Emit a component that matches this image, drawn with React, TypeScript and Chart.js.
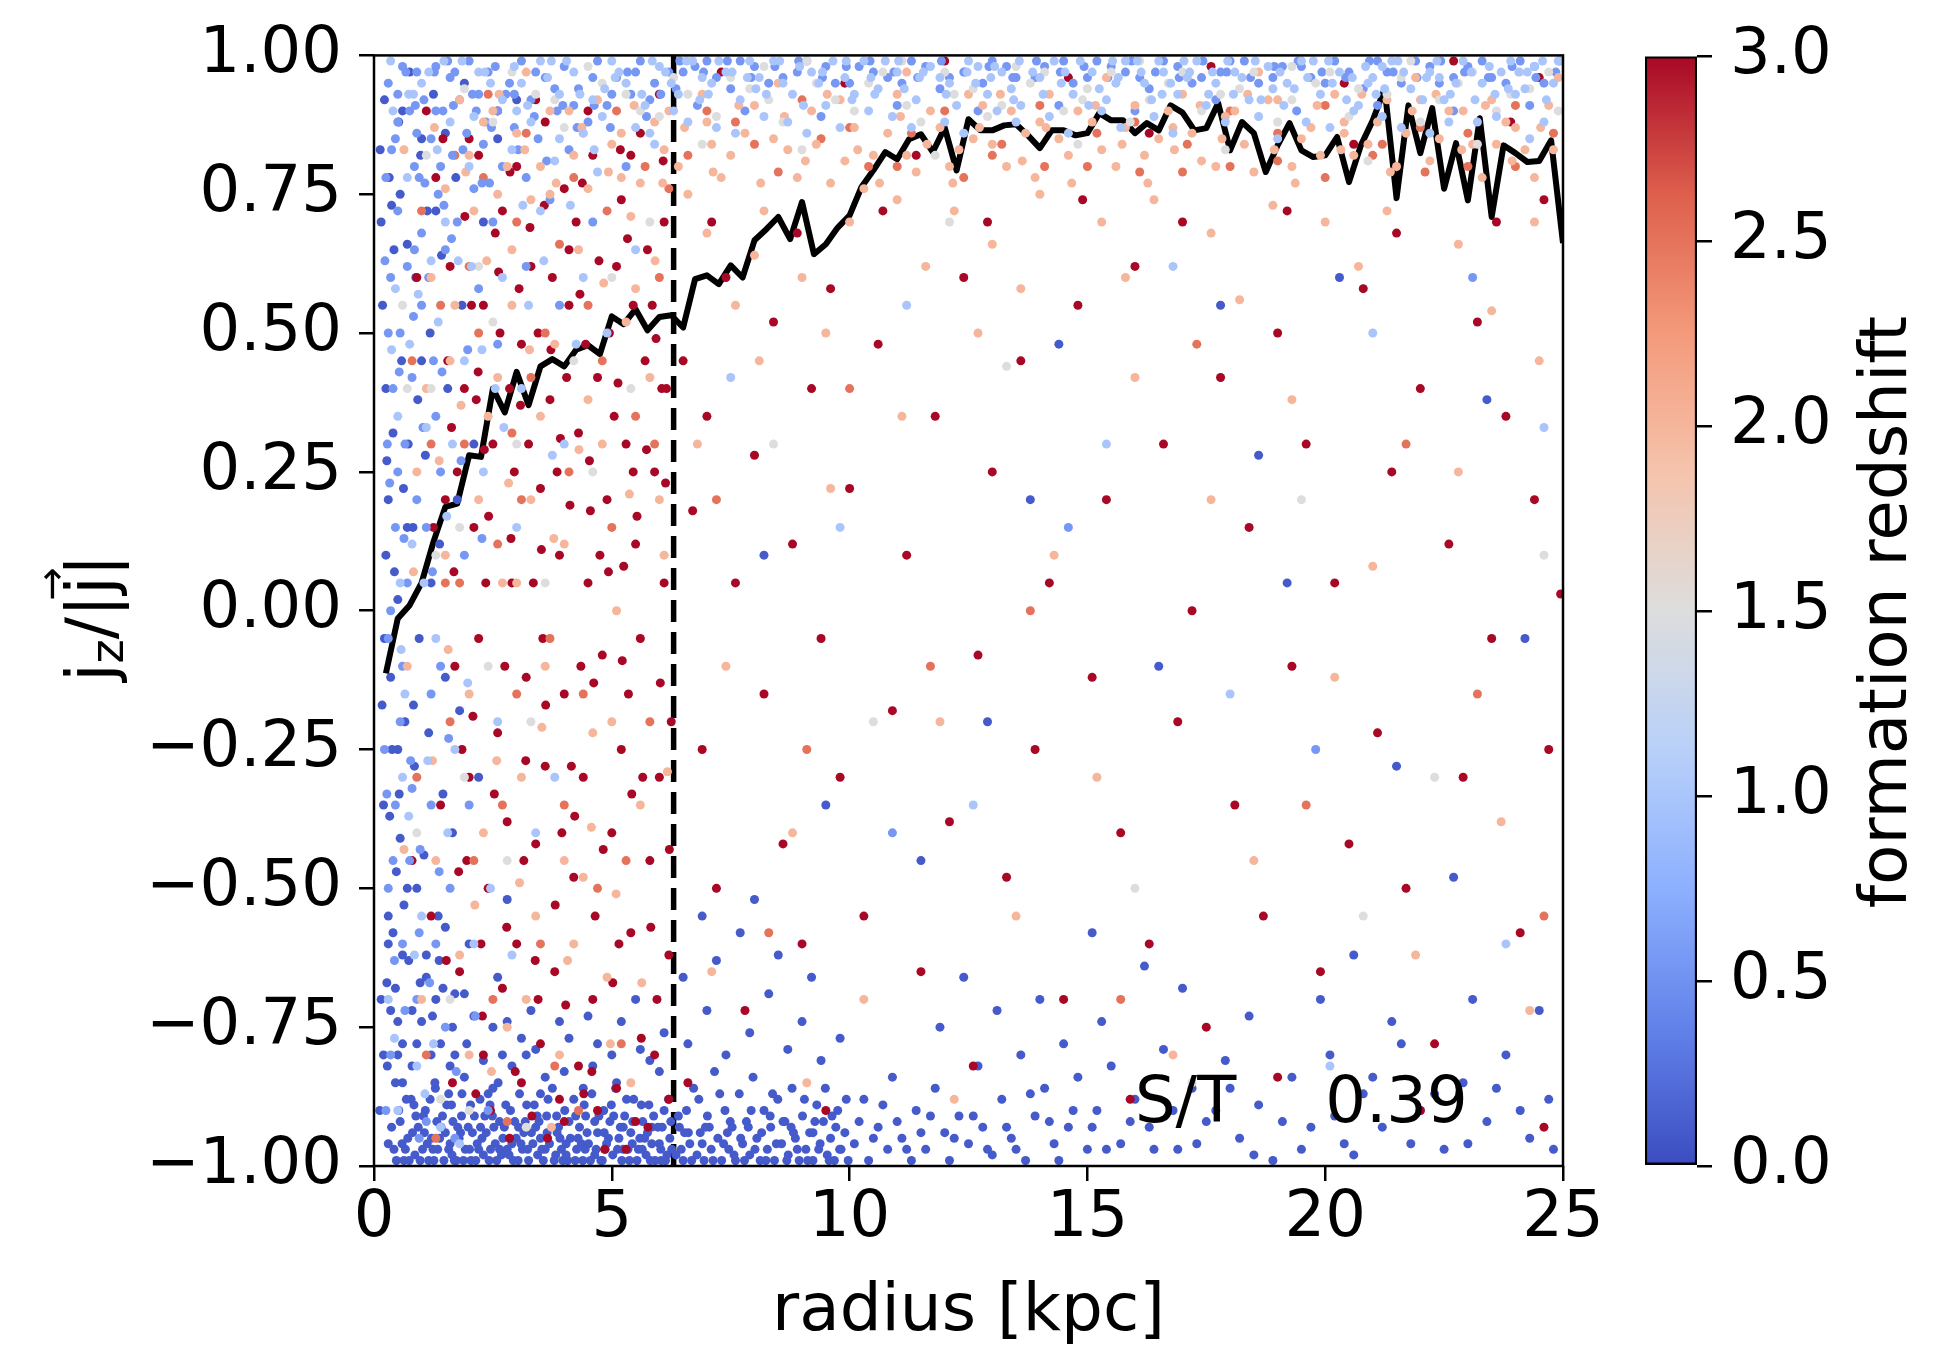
import { useEffect, useRef } from 'react';
import { Chart, registerables } from 'chart.js';

Chart.register(...registerables);

// ---- data ----

const RADIUS_BINS = [
  0.25, 0.5, 0.75, 1, 1.25, 1.5, 1.75, 2, 2.25, 2.5, 2.75, 3, 3.25, 3.5, 3.75, 4, 4.25, 4.5, 4.75, 5,
  5.25, 5.5, 5.75, 6, 6.25, 6.5, 6.75, 7, 7.25, 7.5, 7.75, 8, 8.25, 8.5, 8.75, 9, 9.25, 9.5, 9.75, 10,
  10.25, 10.5, 10.75, 11, 11.25, 11.5, 11.75, 12, 12.25, 12.5, 12.75, 13, 13.25, 13.5, 13.75, 14, 14.25, 14.5, 14.75, 15,
  15.25, 15.5, 15.75, 16, 16.25, 16.5, 16.75, 17, 17.25, 17.5, 17.75, 18, 18.25, 18.5, 18.75, 19, 19.25, 19.5, 19.75, 20,
  20.25, 20.5, 20.75, 21, 21.25, 21.5, 21.75, 22, 22.25, 22.5, 22.75, 23, 23.25, 23.5, 23.75, 24, 24.25, 24.5, 24.75, 25,
];

const MEAN_JZ = [
  -0.113, -0.014, 0.01, 0.05, 0.124, 0.187, 0.193, 0.28, 0.277, 0.4, 0.357, 0.43, 0.37, 0.44, 0.453, 0.44, 0.47, 0.478, 0.462, 0.53,
  0.516, 0.543, 0.505, 0.529, 0.532, 0.51, 0.597, 0.604, 0.588, 0.622, 0.6, 0.667, 0.687, 0.709, 0.669, 0.736, 0.642, 0.66, 0.69, 0.712,
  0.763, 0.793, 0.826, 0.813, 0.849, 0.858, 0.826, 0.87, 0.793, 0.885, 0.865, 0.865, 0.874, 0.876, 0.856, 0.833, 0.865, 0.865, 0.856, 0.86,
  0.896, 0.883, 0.883, 0.86, 0.878, 0.865, 0.91, 0.897, 0.865, 0.869, 0.914, 0.829, 0.88, 0.86, 0.79, 0.838, 0.878, 0.829, 0.817, 0.82,
  0.853, 0.772, 0.838, 0.883, 0.94, 0.743, 0.91, 0.824, 0.905, 0.76, 0.842, 0.739, 0.887, 0.709, 0.838, 0.824, 0.808, 0.81, 0.847, 0.662,
];

const HALF_MASS_RADIUS = 6.3;
const ST_RATIO = 0.39;

const X_TICKS = [0, 5, 10, 15, 20, 25];
const Y_TICKS = [-1, -0.75, -0.5, -0.25, 0, 0.25, 0.5, 0.75, 1];
const Z_TICKS = [0, 0.5, 1, 1.5, 2, 2.5, 3];

// star particles, flat [radius, jz, radius, jz, ...], grouped by formation redshift
const Z_GROUPS = [1.0, 1.5, 2.0, 0.55, 2.5, 3.0, 0.1];

const PTS_Z10 = [
  2.2,.97, 2.7,.92, 3.1,.95, 3.5,.99, 3.9,.93, 4.2,.97, 4.6,.92, 5.0,.99, 5.3,.95, 5.7,.91, 6.0,.98, 6.4,.93, 6.7,.99, 7.1,.95,
  7.4,.97, 7.7,.92, 8.1,.96, 8.4,.99, 8.8,.93, 9.2,.97, 9.5,.91, 9.9,.96, 10.3,.99, 10.6,.94, 11.0,.97, 11.4,.92, 11.7,.98,
  12.1,.95, 12.5,.99, 12.9,.93, 13.2,.97, 13.6,.91, 14.0,.96, 14.3,.99, 14.7,.93, 15.1,.97, 15.4,.92, 15.8,.99, 16.2,.95,
  16.6,.97, 16.9,.93, 17.3,.99, 17.7,.95, 18.1,.97, 18.4,.92, 18.8,.98, 19.2,.95, 19.5,.99, 19.9,.93, 20.3,.97, 20.7,.91,
  21.0,.96, 21.4,.99, 21.8,.94, 22.2,.97, 22.5,.92, 22.9,.99, 23.3,.95, 23.7,.97, 24.0,.93, 24.4,.98, 24.8,.95,
  3.3,.88, 4.4,.86, 5.5,.87, 6.6,.88, 7.6,.86, 8.7,.88, 9.8,.87, 10.9,.89, 12.0,.88, 13.1,.9, 14.2,.89, 15.3,.9, 16.4,.89,
  17.5,.91, 18.6,.89, 19.6,.88, 20.6,.9, 21.6,.87, 22.6,.88, 23.6,.89, 24.6,.88, 6.9,.96, 8.6,.95, 10.1,.93, 11.9,.96,
  13.4,.94, 15.6,.95, 17.1,.96, 18.9,.94, 20.9,.95, 22.4,.96, 24.2,.94, 7.9,.99, 12.7,.98, 16.5,.99, 21.2,.98, 23.9,.99,
  0.35,.99, 1.15,.97, 1.85,.99, 2.45,.95, 2.95,.98, 3.65,.96, 4.05,.99, 4.85,.94, 5.15,.97, 5.85,.99, 6.25,.95, 6.85,.92,
  7.25,.99, 7.85,.96, 8.25,.93, 8.95,.98, 9.35,.95, 9.65,.99, 10.05,.92, 10.45,.96, 10.75,.99, 11.15,.94, 11.55,.97,
  12.25,.91, 12.65,.95, 13.05,.98, 13.45,.92, 13.85,.97, 14.45,.95, 14.85,.99, 15.25,.94, 15.65,.96, 16.05,.99, 16.35,.92,
  16.75,.95, 17.15,.97, 17.55,.93, 17.95,.99, 18.25,.96, 18.65,.92, 19.05,.97, 19.35,.94, 19.75,.99, 20.15,.95, 20.45,.92,
  20.85,.98, 21.25,.94, 21.65,.97, 22.05,.92, 22.35,.99, 22.75,.95, 23.15,.92, 23.45,.98, 23.85,.94, 24.25,.97, 24.65,.92,
  24.9,.99, 2.1,.89, 3.0,.9, 3.9,.85, 4.8,.89, 5.8,.86, 6.3,.9, 7.2,.87, 8.2,.89, 9.1,.86, 10.4,.9, 11.3,.87, 12.4,.86,
  13.5,.88, 14.6,.86, 15.7,.87, 16.8,.86, 17.9,.88, 19.0,.85, 20.1,.87, 21.2,.89, 22.2,.86, 23.2,.88, 24.3,.85,
  0.83,.93, 1.47,.99, 2.33,.97, 3.23,.91, 3.73,.99, 4.33,.93, 5.07,.96, 5.63,.93, 6.13,.97, 6.57,.99, 7.03,.93, 7.53,.97,
  8.03,.94, 8.53,.99, 9.03,.91, 9.43,.97, 9.93,.99, 10.53,.93, 11.03,.99, 11.47,.96, 12.03,.93, 12.47,.97, 12.97,.96,
  13.57,.99, 14.07,.93, 14.53,.97, 15.03,.91, 15.53,.99, 16.13,.97, 16.57,.93, 17.03,.99, 17.63,.97, 18.07,.93, 18.53,.99,
  19.13,.91, 19.63,.96, 20.07,.99, 20.57,.96, 21.07,.93, 21.53,.99, 22.13,.96, 22.63,.93, 23.07,.97, 23.57,.93, 24.07,.97,
  24.57,.99,
  0.5,.35, 0.8,.12, 1.1,.33, 1.3,-.05, 0.6,-.3, 1.0,-.55, 1.5,.7, 1.9,.45, 2.3,.25, 2.7,.6, 3.1,.4, 3.5,.72, 1.7,-.25,
  2.1,-.6, 0.9,-.82, 1.4,-.93, 2.6,-.2, 3.0,.15, 3.4,-.4, 4.0,.3, 4.4,.6, 4.9,.5, 5.5,.65, 0.7,.78, 1.2,.63, 0.4,.9,
  1.6,.88, 2.0,.8, 2.9,.83, 3.8,.81, 4.7,.79, 5.9,.84, 1.0,.95, 0.3,-.7, 1.8,-.96, 0.55,.05, 0.45,.58, 0.75,.48, 1.35,.52,
  1.65,.3, 2.05,.62, 2.55,.4, 3.25,.55, 3.75,.28, 4.25,.48, 0.65,-.15, 1.05,.05, 1.55,-.4, 2.45,-.5, 0.85,-.62, 1.25,-.78,
  0.5,-.9, 2.9,-.62, 3.8,-.3, 0.37,.47, 0.57,-.07, 0.73,-.37, 0.93,.57, 1.13,-.27, 1.33,.83, 1.53,.17, 1.77,.63,
  1.97,-.13, 2.27,.47, 2.73,.33, 3.13,.73, 3.57,.63, 4.13,.73, 4.63,.83, 0.43,-.77, 0.73,.93, 1.07,-.87,
  7.5,.42, 9.8,.15, 12.6,-.35, 15.4,.3, 18.0,-.15, 21.0,.5, 23.8,-.6, 20.1,-.82, 11.2,.55, 16.8,.62, 24.6,.33,
];

const PTS_Z15 = [
  2.5,.88, 3.4,.93, 4.0,.87, 4.8,.95, 5.6,.9, 6.3,.96, 7.2,.89, 7.9,.94, 8.6,.88, 9.3,.95, 10.1,.9, 10.7,.97, 11.5,.88,
  12.2,.93, 12.9,.89, 13.8,.95, 14.5,.9, 15.0,.94, 15.9,.88, 16.7,.95, 17.4,.9, 18.2,.94, 19.0,.88, 19.8,.95, 20.5,.89,
  21.3,.93, 22.0,.88, 22.8,.95, 23.6,.9, 24.3,.94, 24.9,.9, 6.9,.84, 9.0,.83, 11.8,.82, 14.8,.84, 17.9,.83, 20.9,.81,
  23.2,.84, 8.2,.98, 11.1,.99, 13.5,.98, 16.1,.99, 19.3,.98, 21.8,.99, 24.1,.97,
  1.9,.94, 2.9,.97, 3.8,.92, 4.5,.98, 5.3,.93, 6.0,.89, 6.6,.93, 7.5,.96, 8.3,.92, 9.1,.99, 9.7,.92, 10.4,.95, 11.2,.91,
  12.0,.97, 12.6,.94, 13.2,.91, 14.1,.97, 14.9,.92, 15.5,.97, 16.3,.92, 17.0,.97, 17.8,.93, 18.5,.97, 19.3,.92, 20.1,.97,
  20.7,.94, 21.6,.96, 22.4,.92, 23.1,.97, 23.9,.93, 24.7,.97,
  1.2,.4, 1.8,.15, 2.4,-.1, 0.9,-.4, 1.6,-.7, 2.2,.62, 3.0,.3, 3.6,.05, 4.2,.45, 2.8,-.45, 1.4,-.88, 5.0,.6, 5.8,.7,
  0.6,.55, 1.1,.82, 2.0,-.9, 3.2,-.93, 0.7,.4, 1.3,.1, 1.9,-.3, 2.5,.52, 3.3,-.2, 4.6,.25, 5.4,.4,
  8.4,.3, 10.5,-.2, 13.3,.44, 16.0,-.5, 19.5,.2, 22.3,-.3, 24.6,.1, 20.8,-.55, 17.2,-.85, 12.1,.7,
];

const PTS_Z20 = [
  2.0,.82, 2.6,.75, 3.0,.86, 3.5,.8, 4.1,.9, 4.5,.76, 5.0,.84, 5.4,.71, 5.9,.88, 6.4,.8, 6.9,.93, 7.3,.78, 7.8,.86,
  8.2,.72, 8.7,.83, 9.2,.9, 9.6,.77, 10.1,.87, 10.5,.82, 11.0,.93, 11.4,.79, 11.9,.87, 12.3,.83, 12.8,.91, 13.3,.8,
  13.7,.86, 14.2,.93, 14.6,.82, 15.1,.88, 15.6,.8, 16.0,.91, 16.5,.85, 17.0,.93, 17.4,.81, 17.9,.89, 18.3,.84, 18.8,.92,
  19.3,.8, 19.7,.87, 20.2,.93, 20.6,.82, 21.1,.88, 21.5,.8, 22.0,.92, 22.4,.85, 22.9,.9, 23.3,.78, 23.8,.88, 24.2,.83,
  24.7,.91, 6.2,.9, 7.1,.84, 8.5,.95, 9.9,.81, 11.2,.97, 12.6,.85, 14.0,.88, 15.4,.96, 16.8,.87, 18.6,.97, 20.4,.86,
  21.9,.96, 23.6,.84, 24.9,.96,
  1.5,.76, 2.3,.88, 2.8,.8, 3.3,.74, 3.7,.9, 4.2,.82, 4.7,.92, 5.2,.86, 5.6,.77, 6.1,.83, 6.6,.75, 7.0,.88, 7.5,.82,
  8.0,.91, 8.4,.85, 8.9,.78, 9.3,.84, 9.8,.92, 10.3,.76, 10.8,.86, 11.2,.82, 11.7,.9, 12.1,.8, 12.5,.93, 13.0,.84,
  13.4,.9, 13.9,.78, 14.4,.85, 14.8,.9, 15.3,.83, 15.8,.87, 16.2,.82, 16.7,.9, 17.2,.86, 17.7,.8, 18.1,.9, 18.5,.79,
  19.0,.92, 19.5,.85, 19.9,.82, 20.4,.88, 20.9,.84, 21.3,.92, 21.7,.86, 22.2,.81, 22.6,.9, 23.1,.84, 23.5,.92, 24.0,.87,
  24.4,.78, 24.8,.83,
  0.63,.83, 1.27,.87, 1.93,.79, 2.63,.93, 3.17,.83, 3.83,.77, 4.37,.87, 4.93,.79, 5.47,.91, 6.07,.77, 6.53,.87, 7.13,.79,
  7.67,.91, 8.13,.77, 8.63,.89, 9.07,.81, 9.53,.93, 10.17,.83, 10.63,.77, 11.07,.89, 11.63,.84, 12.17,.77, 12.73,.87,
  13.17,.93, 13.63,.81, 14.13,.87, 14.67,.77, 15.17,.91, 15.73,.84, 16.27,.77, 16.83,.83, 17.37,.91, 17.83,.85,
  18.37,.93, 18.93,.83, 19.37,.77, 19.83,.91, 20.33,.83, 20.77,.93, 21.37,.79, 21.83,.9, 22.33,.93, 22.87,.83, 23.37,.91,
  23.93,.81, 24.53,.87,
  7.0,.68, 8.0,.64, 9.0,.6, 10.0,.7, 11.0,.74, 12.2,.72, 13.0,.66, 14.0,.75, 15.3,.7, 16.4,.74, 17.6,.68, 18.9,.73,
  20.0,.7, 21.3,.72, 22.8,.66, 24.4,.7, 7.6,.55, 9.5,.5, 11.6,.62, 13.6,.58, 15.8,.6, 18.2,.56, 20.7,.62, 23.5,.54,
  1.2,.6, 1.6,.45, 2.1,.72, 2.4,.35, 2.9,.55, 3.3,.2, 3.8,.48, 4.3,.65, 4.8,.3, 5.3,.52, 5.8,.42, 1.5,.1, 2.0,-.15,
  2.7,.05, 3.1,-.3, 3.6,-.1, 4.0,.12, 4.6,-.22, 5.1,.0, 5.6,-.35, 6.0,.2, 1.3,-.45, 1.8,-.62, 2.3,-.4, 2.8,-.75, 3.4,-.55,
  3.9,-.8, 4.4,-.48, 4.9,-.66, 5.4,-.85, 0.9,.25, 0.7,-.1, 1.0,-.7, 2.5,.9, 3.7,.75, 4.4,.86, 5.2,.78, 1.8,.92, 3.2,.97,
  1.7,.55, 2.2,.2, 2.6,.42, 3.0,.05, 3.5,.35, 4.0,-.45, 4.5,.38, 5.0,-.2, 5.5,.58, 6.1,.1, 2.0,-.8, 3.2,-.7, 4.2,-.6,
  1.1,.4, 2.9,.65, 1.37,.27, 1.56,-.07, 1.83,.37, 2.12,-.53, 2.37,.63, 2.58,-.27, 2.83,.23, 3.06,-.49, 3.27,.47,
  3.53,-.21, 3.78,.13, 4.07,-.63, 4.31,.29, 4.57,-.39, 4.83,.59, 5.09,-.51, 5.37,.21, 5.63,-.67, 5.91,.63, 6.17,-.29,
  1.23,-.27, 2.47,-.83, 3.73,-.93, 4.97,-.78, 0.83,.07, 0.63,-.43,
  6.8,.3, 7.4,-.1, 8.1,.45, 8.8,-.4, 9.6,.22, 10.3,-.7, 11.1,.35, 11.9,-.2, 12.7,.5, 13.5,-.55, 14.3,.1, 15.2,-.3,
  16.0,.42, 16.8,-.8, 17.6,.2, 18.5,-.45, 19.3,.38, 20.2,-.12, 21.0,.08, 21.9,-.62, 22.8,.25, 23.7,-.38, 24.5,.45,
  7.1,-.65, 9.1,-.85, 12.2,-.88, 24.3,-.72,
];

const PTS_Z055 = [
  0.3,.95, 0.45,.85, 0.6,.98, 0.5,.72, 0.75,.9, 0.7,.62, 0.9,.97, 0.85,.8, 1.0,.68, 1.05,.92, 1.2,.85, 1.15,.6, 1.3,.98,
  1.35,.75, 1.45,.9, 1.5,.65, 1.6,.96, 1.65,.82, 1.75,.7, 1.8,.92, 1.95,.86, 2.0,.99, 2.1,.76, 2.2,.93, 2.3,.84, 2.4,.97,
  2.5,.7, 2.6,.9, 2.7,.8, 2.85,.95, 2.95,.87, 3.1,.99, 3.2,.78, 3.3,.92, 3.45,.85, 3.6,.96, 3.7,.74, 3.85,.9, 4.0,.98,
  4.1,.83, 4.3,.94, 4.5,.88, 4.7,.99, 4.9,.91, 5.1,.96, 5.4,.93, 5.6,.99, 5.9,.95, 6.2,.97, 0.35,.6, 0.55,.5, 0.8,.42,
  1.0,.55, 1.25,.45, 0.4,.4, 0.65,.3, 0.9,.2, 0.45,.15, 0.7,.05, 0.3,-.05, 0.55,-.2, 0.8,-.32, 0.4,-.45, 0.6,-.6, 0.9,-.7,
  0.35,-.8, 1.1,-.92, 1.3,-.6, 1.6,-.5, 2.2,.58, 2.6,.48, 3.2,.62, 1.9,.1, 1.4,.25, 1.2,-.15, 2.0,-.35, 2.4,-.9,
  1.7,-.95, 3.9,.55, 4.6,.7, 5.3,.8, 0.25,.78, 0.28,.3, 0.22,-.25, 0.5,.88, 0.95,.78, 1.4,.8, 1.55,.99, 2.35,.88,
  0.5,.93, 0.9,.86, 1.3,.9, 1.7,.97, 2.15,.9, 2.55,.98, 2.95,.93, 3.4,.97, 3.8,.94, 4.2,.91, 4.6,.96, 5.0,.93, 5.5,.97,
  5.8,.92, 0.3,.5, 0.5,.25, 0.35,.0, 0.6,-.1, 0.45,-.35, 0.75,-.45, 0.3,-.5, 0.65,-.72, 0.95,-.58, 1.2,-.35, 1.4,-.1,
  1.1,.15, 0.85,.65, 1.3,.35, 0.25,-.9, 0.95,-.95, 1.5,-.75,
  0.23,.63, 0.33,.23, 0.27,-.33, 0.43,-.63, 0.53,.43, 0.63,.13, 0.77,-.27, 0.83,.53, 0.97,-.43, 1.03,.33, 1.17,-.67,
  1.23,.07, 1.37,-.47, 1.43,.43, 1.57,-.23, 1.63,.67, 1.73,-.83, 1.83,.27, 1.97,.47, 2.13,-.73, 2.27,.13, 2.43,.77,
  0.37,.83, 0.67,.97, 0.87,.91, 1.07,.77, 1.27,.97, 1.47,.73, 1.67,.91, 1.87,.83, 2.07,.93, 2.27,.77, 2.47,.87, 2.77,.93,
  3.03,.83, 3.37,.89, 3.63,.81, 3.97,.91, 4.27,.87, 4.63,.91, 4.97,.87, 5.33,.97, 5.73,.89, 6.03,.93,
  6.5,.97, 7.0,.99, 7.5,.94, 8.0,.98, 8.6,.96, 9.1,.99, 9.7,.95, 10.2,.98, 10.8,.96, 11.3,.99, 11.9,.94, 12.4,.97,
  13.0,.99, 13.5,.96, 14.1,.98, 14.7,.95, 15.2,.99, 15.8,.97, 16.3,.94, 16.9,.98, 17.4,.96, 18.0,.99, 18.6,.95,
  19.1,.98, 19.7,.96, 20.2,.99, 20.8,.94, 21.3,.97, 21.9,.99, 22.4,.95, 23.0,.98, 23.5,.96, 24.1,.99, 24.6,.95,
  6.8,.91, 7.8,.9, 9.4,.89, 11.0,.91, 12.7,.9, 14.4,.91, 16.0,.9, 17.7,.92, 19.4,.9, 21.1,.91, 22.7,.9, 24.3,.91,
  6.35,.94, 6.75,.98, 7.2,.96, 7.7,.99, 8.3,.95, 8.9,.97, 9.5,.98, 10.0,.95, 10.5,.97, 11.1,.95, 11.6,.98, 12.1,.96,
  12.8,.95, 13.3,.98, 13.9,.96, 14.5,.99, 15.0,.96, 15.5,.98, 16.1,.96, 16.6,.99, 17.2,.95, 17.8,.97, 18.3,.99, 18.9,.96,
  19.5,.98, 20.0,.95, 20.5,.97, 21.1,.99, 21.6,.95, 22.2,.98, 22.7,.96, 23.3,.99, 23.8,.95, 24.4,.98, 24.85,.97,
  6.43,.99, 6.93,.97, 7.43,.99, 7.93,.96, 8.43,.98, 8.93,.99, 9.43,.96, 9.93,.98, 10.43,.99, 10.93,.97, 11.43,.96,
  11.93,.99, 12.43,.97, 12.93,.98, 13.43,.96, 13.93,.99, 14.43,.97, 14.93,.98, 15.43,.96, 15.93,.99, 16.43,.97, 16.93,.96,
  17.43,.99, 17.93,.97, 18.43,.96, 18.93,.98, 19.43,.99, 19.93,.97, 20.43,.96, 20.93,.99, 21.43,.97, 21.93,.96, 22.43,.99,
  22.93,.97, 23.43,.96, 23.93,.98, 24.43,.96, 24.93,.99,
  10.9,-.4, 14.6,.15, 19.8,-.25, 23.1,.6,
];

const PTS_Z25 = [
  1.0,.72, 1.4,.55, 1.9,.3, 2.2,.5, 2.6,.12, 3.0,.7, 3.3,.42, 3.7,-.05, 4.1,.25, 4.5,.55, 5.0,.15, 5.5,.35, 6.0,.6,
  1.6,-.2, 2.1,-.45, 2.5,-.7, 3.0,-.15, 3.5,-.6, 4.0,-.35, 4.7,-.5, 5.2,-.78, 5.8,-.2, 1.1,-.8, 0.8,.45, 1.7,.82,
  2.4,.93, 3.2,.86, 4.2,.78, 5.1,.9, 5.7,.8, 1.3,-.95, 2.8,-.92, 4.3,-.9, 1.5,.05, 2.9,.32, 3.9,.66, 4.8,.45,
  1.2,.3, 1.8,.05, 2.3,.78, 2.7,-.35, 3.1,.2, 3.6,.5, 4.4,-.15, 4.9,.72, 5.3,-.45, 5.9,.3, 6.2,.76, 2.0,.62, 3.8,-.82,
  0.9,-.3,
  6.6,.82, 7.6,.88, 8.5,.79, 9.4,.85, 10.4,.8, 11.3,.86, 12.4,.78, 13.2,.84, 14.1,.8, 15.2,.86, 16.1,.79, 17.1,.84,
  18.0,.8, 19.0,.86, 20.0,.78, 21.2,.84, 22.1,.79, 23.0,.86, 24.0,.8, 24.8,.86, 7.0,.9, 8.0,.84, 9.0,.92, 10.0,.87,
  11.0,.8, 12.0,.9, 13.0,.82, 14.0,.91, 15.0,.8, 16.0,.88, 17.0,.79, 18.0,.9, 19.0,.81, 20.0,.91, 21.0,.82, 22.0,.87,
  23.0,.8, 24.0,.91,
  7.2,.2, 8.3,-.58, 10.0,.4, 11.7,-.1, 13.8,.0, 15.7,-.7, 17.3,.48, 19.6,-.35, 21.7,.3, 23.2,-.15, 24.6,-.55, 9.1,-.25,
];

const PTS_Z30 = [
  1.6,.62, 1.9,.4, 2.1,.15, 2.3,.55, 2.5,.3, 2.7,.72, 2.9,.05, 3.1,.48, 3.3,.62, 3.5,.22, 3.7,.38, 3.9,.1, 4.1,.55,
  4.3,.32, 4.5,.05, 4.7,.42, 4.9,.2, 5.1,.62, 5.3,.3, 5.5,.12, 5.7,.45, 5.9,.25, 6.1,.05, 1.7,-.1, 2.0,-.3, 2.2,-.05,
  2.4,-.5, 2.6,-.22, 2.8,-.38, 3.0,-.6, 3.2,-.12, 3.4,-.42, 3.6,-.28, 3.8,-.65, 4.0,-.15, 4.2,-.48, 4.4,-.3, 4.6,-.7,
  4.8,-.08, 5.0,-.4, 5.2,-.25, 5.4,-.58, 5.6,-.05, 5.8,-.45, 6.0,-.3, 6.2,-.62, 1.8,-.65, 2.3,-.8, 2.7,-.68, 3.1,-.85,
  3.5,-.78, 3.9,-.88, 4.3,-.82, 4.7,-.9, 5.1,-.86, 5.5,-.92, 5.9,-.8, 1.5,.2, 1.4,-.35, 1.3,.78, 2.0,.85, 2.6,.9,
  3.0,.8, 3.6,.88, 4.0,.76, 4.6,.82, 5.2,.74, 5.6,.86, 6.1,.7, 2.15,.38, 2.55,.68, 2.95,.25, 3.35,.05, 3.75,.6,
  4.15,-.28, 4.55,.18, 4.95,.5, 5.35,-.15, 5.75,.65, 6.15,.4, 2.45,-.9, 3.65,-.95, 4.85,-.97, 1.95,-.45, 3.05,.58,
  4.05,.42, 1.1,.9, 0.8,-.45, 1.25,.15, 3.45,-.7, 4.25,.7, 5.45,.55,
  1.55,.45, 1.75,.25, 1.85,-.25, 2.05,.55, 2.25,-.6, 2.35,.05, 2.65,.5, 2.75,-.1, 2.85,.4, 3.15,-.45, 3.25,.3, 3.45,.5,
  3.55,-.05, 3.85,.25, 3.95,-.4, 4.1,.65, 4.35,-.1, 4.45,.48, 4.65,-.55, 4.75,.1, 5.05,.35, 5.15,-.6, 5.25,.08, 5.45,.25,
  5.65,-.3, 5.85,.55, 5.95,-.7, 6.05,.4, 6.25,-.2, 2.2,.82, 3.4,.92, 4.5,.9, 5.4,.82, 6.0,.93, 1.65,-.85, 2.85,-.95,
  4.0,-.92, 5.3,-.97, 6.2,-.88, 1.2,-.55, 0.9,.6, 1.45,.85,
  1.63,.33, 1.78,-.47, 1.91,.71, 2.08,-.19, 2.19,.43, 2.28,-.73, 2.41,.17, 2.53,-.33, 2.62,.61, 2.79,-.57, 2.88,.13,
  2.97,-.83, 3.08,.37, 3.19,-.27, 3.28,.69, 3.39,-.63, 3.52,.11, 3.61,-.17, 3.72,.47, 3.81,-.53, 3.92,.31, 4.03,-.71,
  4.12,.19, 4.22,-.37, 4.33,.57, 4.41,-.87, 4.53,.27, 4.62,-.13, 4.73,.63, 4.82,-.43, 4.93,.07, 5.02,-.67, 5.13,.41,
  5.22,-.09, 5.33,.67, 5.42,-.33, 5.53,.17, 5.62,-.77, 5.73,.29, 5.82,-.57, 5.93,.49, 6.02,-.13, 6.13,.23, 6.21,-.43,
  1.52,-.63, 1.68,.07, 2.32,.29, 2.86,.79, 3.58,.73, 4.38,.77, 5.18,.83, 6.08,.81, 2.14,-.87, 3.32,-.91, 4.58,-.83,
  5.76,-.93,
  6.5,.45, 6.7,.18, 6.9,-.25, 7.0,.35, 7.2,-.5, 7.4,.6, 7.6,.05, 7.8,-.72, 8.0,.28, 8.2,-.15, 8.4,.52, 8.6,-.42,
  8.8,.12, 9.0,-.6, 9.2,.4, 9.4,-.05, 9.6,.58, 9.8,-.3, 10.0,.22, 10.3,-.55, 10.6,.48, 10.9,-.18, 11.2,.1, 11.5,-.65,
  11.8,.35, 12.1,-.38, 12.4,.6, 12.7,-.08, 13.0,.25, 13.3,-.48, 13.6,.45, 13.9,-.25, 14.2,.05, 14.5,-.7, 14.8,.55,
  15.1,-.12, 15.4,.2, 15.7,-.4, 16.0,.62, 16.3,-.6, 16.6,.3, 16.9,-.2, 17.2,.0, 17.5,-.75, 17.8,.42, 18.1,-.35, 18.4,.15,
  18.7,-.55, 19.0,.5, 19.3,-.1, 19.6,.3, 19.9,-.65, 20.2,.05, 20.5,-.42, 20.8,.58, 21.1,-.22, 21.4,.25, 21.7,-.5,
  22.0,.4, 22.3,-.78, 22.6,.12, 22.9,-.3, 23.2,.52, 23.5,-.05, 23.8,.35, 24.1,-.58, 24.4,.2, 24.7,-.25, 24.95,.03,
  7.1,.7, 8.9,.68, 10.7,.72, 12.9,.7, 14.9,.74, 17.0,.7, 19.2,.72, 21.5,.68, 23.6,.7, 24.6,.74, 6.6,-.85, 9.5,-.9,
  12.6,-.82, 15.9,-.88, 19.0,-.84, 22.0,-.9, 24.6,-.93, 11.4,.82, 16.3,.86, 20.6,.84, 23.9,.88,
  7.3,.97, 9.9,.95, 12.0,.99, 14.6,.96, 17.6,.98, 20.4,.95, 22.7,.99, 24.5,.96,
];

const PTS_Z01 = [
  0.42,-.97, 0.55,-.92, 0.63,-.99, 0.71,-.95, 0.78,-.88, 0.86,-.98, 0.93,-.93, 1.02,-.97, 1.08,-.9, 1.15,-.99,
  1.21,-.95, 1.29,-.86, 1.34,-.97, 1.41,-.93, 1.47,-.99, 1.53,-.89, 1.6,-.96, 1.66,-.92, 1.73,-.99, 1.79,-.95,
  1.85,-.87, 1.92,-.97, 1.98,-.93, 2.04,-.99, 2.11,-.91, 2.17,-.96, 2.23,-.88, 2.3,-.98, 2.36,-.94, 2.42,-.99,
  2.49,-.91, 2.55,-.96, 2.61,-.85, 2.68,-.98, 2.74,-.93, 2.8,-.97, 2.87,-.9, 2.93,-.99, 2.99,-.95, 3.06,-.87,
  3.12,-.97, 3.18,-.92, 3.25,-.99, 3.31,-.94, 3.37,-.89, 3.44,-.98, 3.5,-.95, 3.56,-.99, 3.63,-.91, 3.69,-.96,
  3.75,-.86, 3.82,-.98, 3.88,-.93, 3.94,-.97, 4.01,-.9, 4.07,-.99, 4.13,-.95, 4.2,-.88, 4.26,-.97, 4.32,-.93,
  4.39,-.99, 4.45,-.91, 4.51,-.96, 4.58,-.87, 4.64,-.98, 4.7,-.94, 4.77,-.99, 4.83,-.9, 4.89,-.96, 4.96,-.92,
  5.02,-.98, 5.08,-.86, 5.15,-.95, 5.21,-.99, 5.27,-.91, 5.34,-.97, 5.4,-.94, 5.46,-.88, 5.53,-.99, 5.59,-.95,
  5.65,-.92, 5.72,-.98, 5.78,-.89, 5.84,-.96, 5.91,-.99, 5.97,-.93, 6.03,-.97, 6.1,-.9, 6.16,-.98, 6.22,-.95,
  0.47,-.99, 0.59,-.96, 0.81,-.94, 0.97,-.99, 1.12,-.96, 1.26,-.99, 1.38,-.95, 1.57,-.97, 1.69,-.99, 1.82,-.94,
  2.01,-.97, 2.14,-.99, 2.27,-.95, 2.45,-.97, 2.58,-.99, 2.71,-.95, 2.9,-.96, 3.03,-.99, 3.15,-.94, 3.34,-.96,
  3.47,-.92, 3.6,-.97, 3.79,-.99, 3.91,-.95, 4.04,-.96, 4.23,-.99, 4.36,-.96, 4.48,-.94, 4.67,-.97, 4.8,-.99,
  4.93,-.95, 5.12,-.97, 5.24,-.93, 5.37,-.99, 5.56,-.97, 5.69,-.95, 5.81,-.99, 6.0,-.96, 6.13,-.99, 6.26,-.97,
  0.52,-.9, 0.74,-.99, 0.88,-.91, 1.06,-.94, 1.18,-.88, 1.32,-.92, 1.5,-.94, 1.63,-.89, 1.76,-.93, 1.88,-.99,
  2.07,-.94, 2.2,-.97, 2.33,-.91, 2.52,-.93, 2.64,-.97, 2.77,-.89, 2.96,-.92, 3.09,-.96, 3.21,-.89, 3.4,-.93,
  3.53,-.97, 3.66,-.88, 3.85,-.94, 3.97,-.99, 4.1,-.92, 4.29,-.95, 4.42,-.89, 4.55,-.99, 4.73,-.91, 4.86,-.97,
  4.99,-.89, 5.18,-.93, 5.31,-.88, 5.43,-.96, 5.62,-.89, 5.75,-.94, 5.88,-.91, 6.06,-.93, 6.19,-.88,
  0.37,-.93, 0.66,-.97, 0.84,-.89, 1.04,-.91, 1.24,-.97, 1.44,-.91, 1.64,-.98, 1.84,-.91, 2.03,-.89, 2.24,-.93,
  2.44,-.89, 2.64,-.92, 2.84,-.98, 3.04,-.93, 3.23,-.97, 3.43,-.91, 3.64,-.94, 3.84,-.91, 4.04,-.98, 4.24,-.91,
  4.44,-.97, 4.64,-.92, 4.84,-.94, 5.04,-.91, 5.24,-.97, 5.44,-.92, 5.64,-.97, 5.84,-.93, 6.04,-.99, 6.24,-.92,
  0.5,-.74, 0.9,-.78, 1.3,-.7, 1.7,-.8, 2.1,-.73, 2.6,-.66, 0.3,-.6, 0.7,-.5, 1.1,-.62, 1.5,-.57, 2.9,-.82, 3.4,-.79,
  3.9,-.74, 4.4,-.86, 5.0,-.8, 5.5,-.7, 6.0,-.83, 0.6,-.85, 1.9,-.84, 3.2,-.8, 4.7,-.78, 0.3,-.96, 0.2,-.8, 0.35,-.72,
  0.6,-.78, 0.45,-.85, 0.8,-.82, 1.0,-.74, 1.2,-.8, 1.45,-.68, 1.65,-.75, 1.9,-.69, 2.3,-.81, 2.5,-.86, 2.8,-.74,
  3.1,-.77, 3.5,-.87, 4.0,-.83, 4.5,-.73, 5.1,-.85, 5.6,-.79, 6.1,-.76,
  6.35,-.98, 6.42,-.93, 6.5,-.99, 6.57,-.9, 6.64,-.96, 6.72,-.86, 6.79,-.98, 6.86,-.94, 6.94,-.99, 7.01,-.91, 7.09,-.97,
  7.16,-.83, 7.23,-.95, 7.31,-.99, 7.38,-.9, 7.46,-.97, 7.53,-.93, 7.6,-.99, 7.68,-.87, 7.75,-.96, 7.83,-.92, 7.9,-.98,
  7.97,-.84, 8.05,-.95, 8.12,-.99, 8.2,-.9, 8.27,-.97, 8.34,-.93, 8.42,-.99, 8.49,-.88, 8.57,-.96, 8.64,-.92, 8.71,-.98,
  8.79,-.86, 8.86,-.95, 8.94,-.99, 9.01,-.91, 9.08,-.97, 9.16,-.94, 9.23,-.99, 9.31,-.89, 9.38,-.96, 9.45,-.92, 9.53,-.98,
  9.6,-.95, 9.68,-.99, 9.75,-.9, 9.82,-.97, 9.9,-.94, 9.97,-.99, 6.46,-.97, 6.68,-.99, 6.9,-.96, 7.13,-.99, 7.35,-.96,
  7.57,-.98, 7.79,-.99, 8.01,-.97, 8.24,-.99, 8.46,-.96, 8.68,-.99, 8.9,-.97, 9.12,-.99, 9.35,-.97, 9.57,-.99, 9.79,-.97,
  6.4,-.91, 6.61,-.94, 6.83,-.88, 7.05,-.93, 7.27,-.87, 7.49,-.92, 7.71,-.95, 7.93,-.9, 8.15,-.94, 8.38,-.87, 8.6,-.92,
  8.82,-.94, 9.05,-.88, 9.27,-.92, 9.49,-.86, 9.71,-.93, 9.93,-.88, 6.53,-.94, 6.97,-.93, 7.43,-.94, 7.87,-.93,
  8.33,-.91, 8.77,-.93, 9.23,-.94, 9.63,-.91,
  6.6,-.78, 7.0,-.72, 7.4,-.8, 7.2,-.63, 7.9,-.76, 8.3,-.69, 8.7,-.79, 9.0,-.74, 9.4,-.81, 9.8,-.77, 6.9,-.55, 7.7,-.58,
  8.5,-.62, 9.2,-.66, 6.5,-.66, 8.0,-.52,
  10.1,-.96, 10.3,-.88, 10.4,-.99, 10.6,-.93, 10.8,-.97, 10.9,-.84, 11.1,-.95, 11.3,-.99, 11.4,-.9, 11.6,-.97, 11.8,-.86,
  12.0,-.94, 12.1,-.99, 12.3,-.91, 12.5,-.96, 12.7,-.82, 12.8,-.93, 13.0,-.98, 13.2,-.88, 13.4,-.95, 13.6,-.8, 13.7,-.99,
  13.9,-.91, 14.1,-.86, 14.3,-.96, 14.5,-.78, 14.6,-.93, 14.8,-.84, 15.0,-.97, 15.2,-.9, 15.5,-.82, 15.7,-.96, 16.0,-.88,
  16.3,-.93, 16.6,-.79, 16.9,-.97, 17.2,-.86, 17.5,-.92, 17.9,-.81, 18.2,-.95, 18.6,-.89, 18.9,-.99, 19.3,-.84, 19.7,-.93,
  20.1,-.8, 20.4,-.96, 20.8,-.87, 21.2,-.93, 21.6,-.78, 22.0,-.9, 22.5,-.97, 22.9,-.85, 23.4,-.92, 23.8,-.8, 24.3,-.95,
  24.7,-.88, 11.9,-.75, 13.1,-.72, 14.0,-.7, 15.3,-.74, 17.0,-.68, 18.4,-.73, 19.9,-.7, 21.4,-.74, 23.1,-.7, 24.5,-.72,
  12.4,-.66, 16.2,-.64, 20.6,-.62, 10.2,-.92, 10.5,-.95, 10.7,-.89, 11.0,-.92, 11.2,-.97, 11.5,-.94, 11.7,-.91, 12.2,-.95,
  12.6,-.91, 12.9,-.97, 13.3,-.93, 13.5,-.97, 13.8,-.87, 14.2,-.92, 14.4,-.99, 14.7,-.9, 15.1,-.93, 15.4,-.97, 15.9,-.92,
  16.4,-.97, 16.8,-.9, 17.3,-.96, 17.7,-.9, 18.0,-.86, 18.5,-.98, 19.1,-.92, 19.5,-.97, 20.2,-.91, 20.6,-.98, 21.0,-.84,
  21.8,-.96, 22.3,-.87, 23.0,-.96, 23.6,-.86, 24.1,-.9, 24.8,-.97,
  0.15,-.7, 0.3,-.55, 0.2,-.35, 0.35,-.12, 0.25,.1, 0.4,.32, 0.18,.55, 0.32,.78, 0.22,.92, 0.5,-.8, 0.6,-.62, 0.55,-.41,
  0.65,-.2, 0.5,.02, 0.62,.22, 0.58,.45, 0.7,.66, 0.52,.88, 0.8,-.72, 0.9,-.5, 0.85,-.28, 0.95,-.05, 0.82,.15, 0.92,.38,
  0.88,.6, 0.98,.82, 0.75,.97, 1.1,-.66, 1.05,-.44, 1.15,-.22, 1.2,.05, 1.08,.28, 1.18,.5, 1.12,.72, 1.25,.93, 1.4,-.78,
  1.35,-.55, 1.45,-.33, 1.5,-.12, 1.38,.12, 1.55,.4, 1.42,.64, 1.5,.86, 1.7,-.69, 1.65,-.4, 1.8,-.18, 1.75,.2, 1.85,.55,
  1.72,.78, 1.9,.95, 2.0,-.6, 2.2,-.3, 2.1,.3, 2.3,.7, 2.5,-.75, 2.6,.85, 2.8,-.52, 3.0,.92, 0.12,-.9, 0.28,-.82,
  0.45,-.68, 0.38,-.25, 0.42,.65, 0.68,-.88, 0.72,.3, 1.0,.45, 1.28,-.85, 1.6,-.82, 1.95,-.78, 2.4,-.87, 2.7,-.8,
  3.3,-.72, 3.6,-.84, 4.1,-.77, 4.6,-.82, 5.2,-.74, 5.8,-.81, 0.25,.4, 0.15,.7, 0.22,-.05, 0.4,-.58, 0.55,.75, 0.7,.15,
  0.3,.2, 0.5,-.25, 1.0,.85, 1.3,.72, 0.6,.9, 0.27,-.67, 0.47,-.47, 0.33,-.37, 0.17,-.17, 0.43,.07, 0.27,.27, 0.13,.83,
  0.37,.73, 0.63,-.53, 0.73,-.63, 0.97,-.67, 1.37,-.63, 1.57,-.87, 1.23,-.73, 0.53,-.33, 0.83,-.17,
  11.5,-.45, 13.8,.2, 16.5,-.1, 19.2,.05, 21.5,-.28, 23.4,.38, 17.8,.55, 15.1,-.58, 22.7,-.48, 20.3,.6, 12.9,-.2,
  18.6,.28, 24.2,-.05, 14.4,.48, 9.5,-.35, 8.2,.1,
];

const GROUP_POINTS = [PTS_Z10, PTS_Z15, PTS_Z20, PTS_Z055, PTS_Z25, PTS_Z30, PTS_Z01];

// ---- colour map (coolwarm) ----
const COOLWARM: [number, number, number][] = [
  [59, 76, 192], [98, 130, 234], [141, 176, 254], [184, 208, 249], [221, 221, 221],
  [245, 196, 173], [244, 154, 123], [222, 96, 77], [168, 8, 38],
];

function coolwarm(t: number) {
  const c = Math.max(0, Math.min(1, t)) * (COOLWARM.length - 1);
  const i = Math.min(COOLWARM.length - 2, Math.floor(c));
  const f = c - i;
  const a = COOLWARM[i], b = COOLWARM[i + 1];
  const m = (k: number) => Math.round(a[k] + (b[k] - a[k]) * f);
  return `rgb(${m(0)},${m(1)},${m(2)})`;
}

const FONT = '"DejaVu Sans", sans-serif';
const W = 1937;
const H = 1370;
const PLOT = { left: 374, right: 1563, top: 53, bottom: 1166 };
const CBAR = { canvasLeft: 1560, left: 1645, right: 1697 };

function toXY(flat: number[]) {
  const out: { x: number; y: number }[] = [];
  for (let i = 0; i + 1 < flat.length; i += 2) out.push({ x: flat[i], y: flat[i + 1] });
  return out;
}

const fmtMinus = (s: string) => s.replace('-', '\u2212');

export default function App() {
  const mainRef = useRef<HTMLCanvasElement>(null);
  const barRef = useRef<HTMLCanvasElement>(null);

  useEffect(() => {
    if (!mainRef.current || !barRef.current) return;

    const scatterSets = Z_GROUPS.map((z, gi) => ({
      label: `z=${z}`,
      data: toXY(GROUP_POINTS[gi]),
      backgroundColor: coolwarm(z / 3),
      pointBackgroundColor: coolwarm(z / 3),
      pointRadius: 4.5,
      pointBorderWidth: 0,
      showLine: false,
      clip: 0,
    }));

    const frame = {
      id: 'frame',
      afterDatasetsDraw(chart: any) {
        const { ctx, chartArea, scales } = chart;
        ctx.save();
        ctx.strokeStyle = '#000';
        ctx.lineWidth = 2.5;
        ctx.strokeRect(chartArea.left, chartArea.top, chartArea.right - chartArea.left, chartArea.bottom - chartArea.top);
        // S/T annotation
        ctx.fillStyle = '#000';
        ctx.font = `64px ${FONT}`;
        ctx.textBaseline = 'alphabetic';
        ctx.textAlign = 'left';
        const yb = scales.y.getPixelForValue(-0.92);
        ctx.fillText('S/T', scales.x.getPixelForValue(16), yb);
        ctx.fillText(ST_RATIO.toFixed(2), scales.x.getPixelForValue(20.0), yb);
        ctx.restore();
      },
      afterDraw(chart: any) {
        // y-axis label  j_z / |vec j|
        const { ctx } = chart;
        ctx.save();
        ctx.translate(113, 618);
        ctx.rotate(-Math.PI / 2);
        ctx.fillStyle = '#000';
        ctx.textBaseline = 'alphabetic';
        ctx.textAlign = 'left';
        const big = `66px ${FONT}`;
        const small = `46px ${FONT}`;
        const parts: [string, string, number][] = [['j', big, 0], ['z', small, 10], ['/|', big, 0], ['j', big, 0], ['|', big, 0]];
        let total = 0;
        for (const [t, f] of parts) { ctx.font = f; total += ctx.measureText(t).width; }
        let x = -total / 2;
        parts.forEach(([t, f, dy], i) => {
          ctx.font = f;
          const w = ctx.measureText(t).width;
          ctx.fillText(t, x, dy);
          if (i === 3) {
            ctx.font = `40px ${FONT}`;
            ctx.textAlign = 'center';
            ctx.fillText('\u2192', x + w / 2 + 2, -48);
            ctx.textAlign = 'left';
          }
          x += w;
        });
        ctx.restore();
      },
    };

    const main = new Chart(mainRef.current, {
      type: 'scatter',
      data: {
        datasets: [
          ...scatterSets,
          {
            label: 'mean',
            data: RADIUS_BINS.map((r, i) => ({ x: r, y: MEAN_JZ[i] })),
            showLine: true,
            borderColor: '#000',
            borderWidth: 6,
            borderJoinStyle: 'round',
            pointRadius: 0,
            tension: 0,
            clip: 0,
          },
          {
            label: 'half-mass radius',
            data: [{ x: HALF_MASS_RADIUS, y: -1 }, { x: HALF_MASS_RADIUS, y: 1 }],
            showLine: true,
            borderColor: '#000',
            borderWidth: 5.5,
            borderDash: [22, 10],
            pointRadius: 0,
            clip: 0,
          },
        ] as any,
      },
      options: {
        responsive: false,
        animation: false,
        devicePixelRatio: 1,
        events: [],
        layout: { padding: { top: PLOT.top, right: W - PLOT.right, left: 0, bottom: 0 } },
        plugins: { legend: { display: false }, tooltip: { enabled: false } },
        scales: {
          x: {
            type: 'linear',
            min: 0,
            max: 25,
            afterFit: (s: any) => { s.height = H - PLOT.bottom; },
            afterBuildTicks: (s: any) => { s.ticks = X_TICKS.map((v) => ({ value: v })); },
            border: { display: false },
            grid: { drawOnChartArea: false, drawTicks: true, tickLength: 15, color: '#000', lineWidth: 2.5 },
            ticks: { color: '#000', font: { family: FONT, size: 64 }, padding: 0, maxRotation: 0, callback: (v: any) => String(v) },
            title: { display: true, text: 'radius [kpc]', color: '#000', font: { family: FONT, size: 66 }, padding: { top: 0, bottom: 18 } },
          },
          y: {
            type: 'linear',
            min: -1,
            max: 1,
            afterFit: (s: any) => { s.width = PLOT.left; },
            afterBuildTicks: (s: any) => { s.ticks = Y_TICKS.map((v) => ({ value: v })); },
            border: { display: false },
            grid: { drawOnChartArea: false, drawTicks: true, tickLength: 15, color: '#000', lineWidth: 2.5 },
            ticks: { color: '#000', font: { family: FONT, size: 64 }, padding: 17, callback: (v: any) => fmtMinus(Number(v).toFixed(2)) },
          },
        },
      },
      plugins: [frame],
    });

    const cbarTitle = {
      id: 'cbarTitle',
      afterDraw(chart: any) {
        const { ctx } = chart;
        ctx.save();
        ctx.translate(1906 - CBAR.canvasLeft, 612);
        ctx.rotate(-Math.PI / 2);
        ctx.fillStyle = '#000';
        ctx.font = `66px ${FONT}`;
        ctx.textAlign = 'center';
        ctx.textBaseline = 'alphabetic';
        ctx.fillText('formation redshift', 0, 0);
        ctx.restore();
      },
    };

    const cbar = new Chart(barRef.current, {
      type: 'bar',
      data: {
        labels: ['z'],
        datasets: [{
          data: [[Z_TICKS[0], Z_TICKS[Z_TICKS.length - 1]]] as any,
          backgroundColor: (c: any) => {
            const { ctx, chartArea } = c.chart;
            if (!chartArea) return '#ddd';
            const g = ctx.createLinearGradient(0, chartArea.bottom, 0, chartArea.top);
            for (let i = 0; i <= 16; i++) g.addColorStop(i / 16, coolwarm(i / 16));
            return g;
          },
          borderColor: '#000',
          borderWidth: 2.5,
          borderSkipped: false,
          barPercentage: 1,
          categoryPercentage: 1,
        }],
      },
      options: {
        responsive: false,
        animation: false,
        devicePixelRatio: 1,
        events: [],
        layout: { padding: { top: PLOT.top, bottom: H - PLOT.bottom, left: CBAR.left - CBAR.canvasLeft, right: 0 } },
        plugins: { legend: { display: false }, tooltip: { enabled: false } },
        scales: {
          x: { display: false },
          y: {
            position: 'right',
            min: 0,
            max: 3,
            afterFit: (s: any) => { s.width = W - CBAR.right; },
            afterBuildTicks: (s: any) => { s.ticks = Z_TICKS.map((v) => ({ value: v })); },
            border: { display: false },
            grid: { drawOnChartArea: false, drawTicks: true, tickLength: 15, color: '#000', lineWidth: 2.5 },
            ticks: { color: '#000', font: { family: FONT, size: 64 }, padding: 18, callback: (v: any) => Number(v).toFixed(1) },
          },
        },
      },
      plugins: [cbarTitle],
    });

    return () => {
      main.destroy();
      cbar.destroy();
    };
  }, []);

  return (
    <div style={{ position: 'absolute', left: 0, top: 0, width: W, height: H, background: '#fff' }}>
      <canvas ref={mainRef} width={W} height={H} style={{ position: 'absolute', left: 0, top: 0 }} />
      <canvas ref={barRef} width={W - CBAR.canvasLeft} height={H} style={{ position: 'absolute', left: CBAR.canvasLeft, top: 0 }} />
    </div>
  );
}
